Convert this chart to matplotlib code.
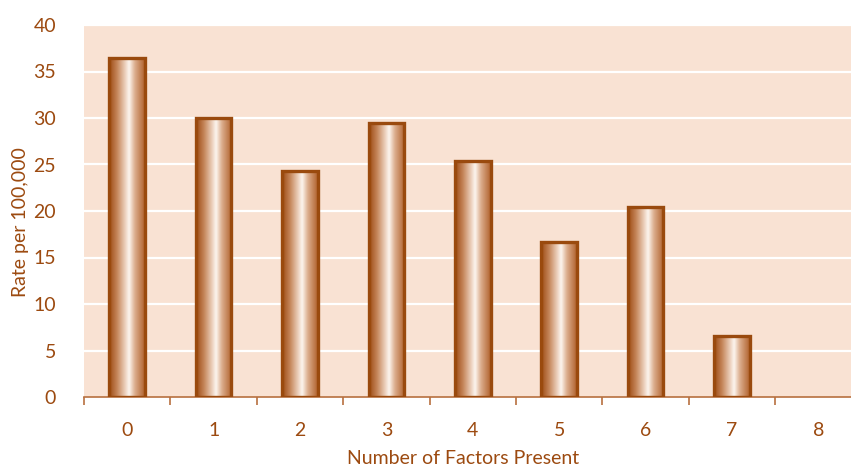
import numpy as np
import matplotlib.pyplot as plt
from matplotlib.colors import LinearSegmentedColormap

plt.rcParams['font.family'] = ['Lato', 'DejaVu Sans']

factors = ['0', '1', '2', '3', '4', '5', '6', '7', '8']
rates = [36.4, 30.0, 24.3, 29.5, 25.4, 16.7, 20.4, 6.6, 0.0]

txt = '#9c4a10'
edge = '#9a4a0e'
bg = '#f9e2d3'

# cylinder look: dark left, bright stripe right of centre, mid brown on the right
shade = LinearSegmentedColormap.from_list('cyl', [
    (0.0, '#9c4a12'), (0.22, '#c48458'), (0.45, '#ecd0bc'),
    (0.56, '#fdf6f0'), (0.72, '#dcae8e'), (1.0, '#b0612c')])
grad = np.linspace(0, 1, 256).reshape(1, -1)

fig = plt.figure(figsize=(8.51, 4.68), dpi=100)
ax = fig.add_axes([84 / 851, 71 / 468, 767 / 851, 372 / 468])
ax.set_facecolor(bg)

x = np.arange(len(factors))
w = 0.41

for yv in range(5, 41, 5):
    ax.axhline(yv, color='white', lw=1.6, zorder=1)

for xi, h in zip(x, rates):
    if h <= 0:
        continue
    ax.bar(xi, h, width=w, facecolor='none', edgecolor=edge, lw=2.4, zorder=3)
    ax.imshow(grad, cmap=shade, aspect='auto', zorder=2,
              extent=[xi - w / 2, xi + w / 2, 0, h], interpolation='bicubic')
ax.set_xlim(-0.5, -0.5 + 767 / 86.4)
ax.set_ylim(0, 40)

for s in ['top', 'right', 'left']:
    ax.spines[s].set_visible(False)
ax.spines['bottom'].set_color('#b8703f')
ax.spines['bottom'].set_linewidth(1.2)

ax.set_yticks(range(0, 41, 5))
ax.tick_params(axis='y', length=0, pad=20, labelsize=14, labelcolor=txt)
ax.set_xticks(x)
ax.set_xticklabels(factors)
ax.tick_params(axis='x', length=0, pad=18, labelsize=14, labelcolor=txt)
ax.set_xticks(np.arange(-0.5, 8.5, 1), minor=True)
ax.tick_params(axis='x', which='minor', length=6, width=1.2, color='#b8703f', direction='out')

ax.set_xlabel('Number of Factors Present', fontsize=14, color=txt)
ax.set_ylabel('Rate per 100,000', fontsize=14, color=txt)
ax.xaxis.set_label_coords((463 - 84) / 767, -(450 - 397) / 372)
ax.yaxis.set_label_coords(-(84 - 29) / 767, (397 - 222) / 372)

fig.savefig('out.png', dpi=100)
